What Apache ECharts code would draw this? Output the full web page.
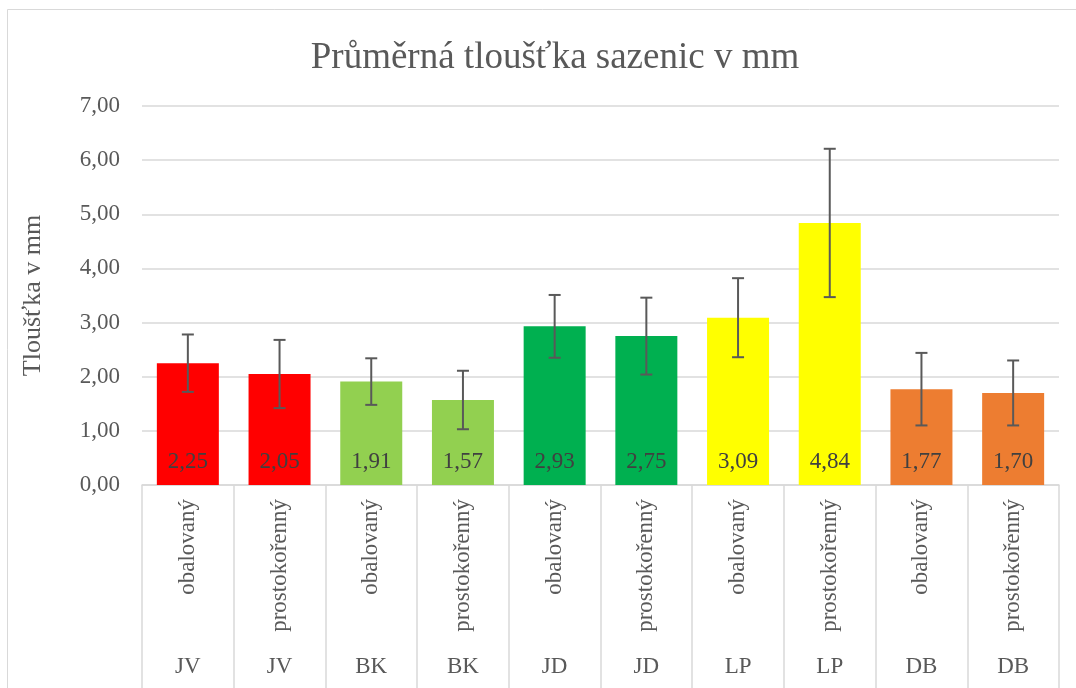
<!DOCTYPE html>
<html>
<head>
<meta charset="utf-8">
<script src="https://cdn.jsdelivr.net/npm/echarts@6/dist/echarts.min.js"></script>
<style>
  html, body { margin: 0; padding: 0; background: #fff; }
  #chart { width: 1076px; height: 688px; }
</style>
</head>
<body>
<div id="chart"></div>
<script>
// hodnoty
const typy = ['obalovaný', 'prostokořenný', 'obalovaný', 'prostokořenný', 'obalovaný', 'prostokořenný', 'obalovaný', 'prostokořenný', 'obalovaný', 'prostokořenný'];
const dreviny = ['JV', 'JV', 'BK', 'BK', 'JD', 'JD', 'LP', 'LP', 'DB', 'DB'];
const prumer = [2.25, 2.05, 1.91, 1.57, 2.93, 2.75, 3.09, 4.84, 1.77, 1.70];
const odchylka = [0.53, 0.63, 0.43, 0.54, 0.58, 0.71, 0.73, 1.37, 0.67, 0.60];
const barvy = ['#ff0000', '#ff0000', '#92d050', '#92d050', '#00b050', '#00b050', '#ffff00', '#ffff00', '#ed7d31', '#ed7d31'];

const font = 'Liberation Serif, Times New Roman, serif';
const carka = v => v.toFixed(2).replace('.', ',');

const chart = echarts.init(document.getElementById('chart'));

const option = {
  animation: false,
  backgroundColor: '#fff',
  graphic: [{
    type: 'rect',
    shape: { x: 7.5, y: 9.5, width: 1100, height: 700 },
    style: { fill: 'none', stroke: '#d9d9d9', lineWidth: 1 },
    silent: true,
  }],
  title: {
    text: 'Průměrná tloušťka sazenic v mm',
    left: 550,
    top: 35,
    textAlign: 'center',
    textStyle: { fontFamily: font, fontSize: 37, fontWeight: 'normal', color: '#595959' },
  },
  grid: { left: 142, right: 17, top: 106, bottom: 203 },
  xAxis: [
    {
      type: 'category',
      data: typy,
      axisLine: { lineStyle: { color: '#d9d9d9', width: 1.5 } },
      axisTick: { show: true, interval: 0, alignWithLabel: false, length: 205, lineStyle: { color: '#d9d9d9', width: 1.5 } },
      axisLabel: { interval: 0, rotate: 90, margin: 14, fontFamily: font, fontSize: 23, color: '#595959' },
    },
    {
      type: 'category',
      data: dreviny,
      position: 'bottom',
      offset: 162,
      axisLine: { show: false },
      axisTick: { show: false },
      axisLabel: { interval: 0, margin: 8, fontFamily: font, fontSize: 23, color: '#595959' },
    },
  ],
  yAxis: {
    type: 'value',
    min: 0,
    max: 7,
    interval: 1,
    name: 'Tloušťka v mm',
    nameLocation: 'middle',
    nameGap: 96,
    nameTextStyle: { fontFamily: font, fontSize: 26, color: '#595959' },
    axisLine: { show: false },
    axisTick: { show: false },
    axisLabel: { formatter: carka, margin: 22, fontFamily: font, fontSize: 23, color: '#595959' },
    splitLine: { lineStyle: { color: '#d9d9d9', width: 1.5 } },
  },
  series: [
    {
      type: 'bar',
      barWidth: 62,
      data: prumer.map((v, i) => ({ value: v, itemStyle: { color: barvy[i] } })),
      label: {
        show: true,
        position: 'insideBottom',
        distance: 12,
        formatter: p => carka(p.value),
        fontFamily: font,
        fontSize: 23,
        color: '#404040',
      },
    },
    {
      type: 'custom',
      data: prumer.map((v, i) => [i, v - odchylka[i], v + odchylka[i]]),
      encode: { x: 0, y: [1, 2] },
      z: 10,
      renderItem: (params, api) => {
        const lo = api.coord([api.value(0), api.value(1)]);
        const hi = api.coord([api.value(0), api.value(2)]);
        const w = 6;
        const st = { stroke: '#595959', lineWidth: 2 };
        return {
          type: 'group',
          children: [
            { type: 'line', shape: { x1: lo[0], y1: lo[1], x2: hi[0], y2: hi[1] }, style: st },
            { type: 'line', shape: { x1: lo[0] - w, y1: lo[1], x2: lo[0] + w, y2: lo[1] }, style: st },
            { type: 'line', shape: { x1: hi[0] - w, y1: hi[1], x2: hi[0] + w, y2: hi[1] }, style: st },
          ],
        };
      },
    },
  ],
};

chart.setOption(option);
</script>
</body>
</html>
